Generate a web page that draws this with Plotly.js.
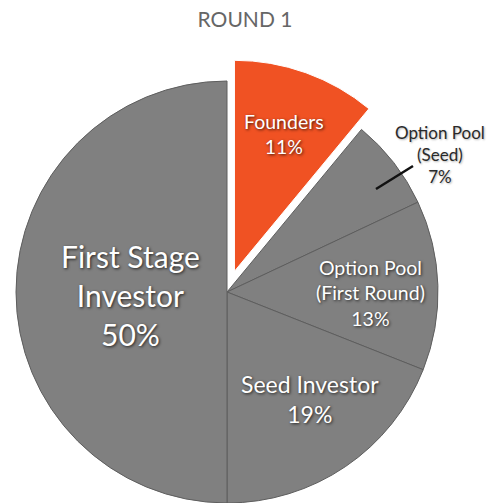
<!DOCTYPE html>
<html><head><meta charset="utf-8">
<script src="https://cdn.plot.ly/plotly-3.0.1.min.js"></script>
<style>html,body{margin:0;padding:0;background:#fff}</style>
</head><body><div id="chart" style="width:490px;height:503px"></div>
<script>
const chartTitle = "ROUND 1";
const labels = ["Founders", "Option Pool (Seed)", "Option Pool (First Round)", "Seed Investor", "First Stage Investor"];
const textLabels = ["Founders", "Option Pool<br>(Seed)", "Option Pool<br>(First Round)", "Seed Investor", "First Stage<br>Investor"];
const values = [11, 7, 13, 19, 50];
const highlighted = "Founders";
const outsideLabel = "Option Pool (Seed)";

const W = 490, H = 503;
const px = x => x / W;
const py = y => 1 - y / H;

const ORANGE = "#F05223", GREY = "#808080", EDGE = "#5e5e5e", CLEAR = "rgba(0,0,0,0)";
const shadow = "1px 1px 3px rgba(0,0,0,0.75)";

// pie geometry (pixels)
const CX = 227, CY = 292, R = 211, PULL = 22;
const total = values.reduce((a, b) => a + b, 0);
let acc = 0;
const midAngles = values.map(v => { const m = (acc + v / 2) / total * 2 * Math.PI; acc += v; return m; });
const hi = labels.indexOf(highlighted);
const dx = PULL * Math.sin(midAngles[hi]), dy = PULL * Math.cos(midAngles[hi]);

const base = {
  type: "pie", values: values, labels: labels, sort: false, direction: "clockwise", rotation: 0,
  textinfo: "none", hoverinfo: "none", showlegend: false
};

const greyTrace = Object.assign({}, base, {
  domain: {x: [px(CX - R), px(CX + R)], y: [py(CY + R), py(CY - R)]},
  marker: {
    colors: labels.map(l => l === highlighted ? CLEAR : GREY),
    line: {color: labels.map(l => l === highlighted ? CLEAR : EDGE), width: labels.map(l => l === highlighted ? 0 : 1)}
  }
});

const orangeTrace = Object.assign({}, base, {
  domain: {x: [px(CX - R + dx), px(CX + R + dx)], y: [py(CY + R - dy), py(CY - R - dy)]},
  marker: {
    colors: labels.map(l => l === highlighted ? ORANGE : CLEAR),
    line: {color: labels.map(l => l === highlighted ? "#ffffff" : CLEAR), width: labels.map(l => l === highlighted ? 1 : 0)}
  }
});

// inside label placement (style): radial fraction, pixel shifts, font size
const labelStyle = {
  "Founders":                  {f: 0.69,  xs: 0, ys: 0,  size: 19.5},
  "Option Pool (First Round)": {f: 0.68,  xs: 0, ys: -6, size: 19.5},
  "Seed Investor":             {f: 0.64,  xs: 7, ys: 5,  size: 23},
  "First Stage Investor":      {f: 0.455, xs: 0, ys: -3, size: 30}
};

const annotations = [];
labels.forEach((l, i) => {
  if (l === outsideLabel) return;
  const s = labelStyle[l];
  const ox = l === highlighted ? dx : 0, oy = l === highlighted ? dy : 0;
  const x = CX + ox + s.f * R * Math.sin(midAngles[i]);
  const y = CY - oy - s.f * R * Math.cos(midAngles[i]);
  annotations.push({
    xref: "paper", yref: "paper", x: px(x), y: py(y), xanchor: "center", yanchor: "middle",
    xshift: s.xs, yshift: s.ys,
    text: textLabels[i] + "<br>" + values[i] + "%", showarrow: false,
    font: {family: "Lato", size: s.size, color: "#ffffff", shadow: shadow}
  });
});

const oi = labels.indexOf(outsideLabel);
annotations.push({
  xref: "paper", yref: "paper", x: px(440), y: py(154), xanchor: "center", yanchor: "middle",
  text: textLabels[oi] + "<br>" + values[oi] + "%", showarrow: false,
  font: {family: "Lato", size: 17, color: "#2a2a2a", shadow: "1px 1px 2px rgba(0,0,0,0.3)"}
});

const layout = {
  width: W, height: H,
  margin: {l: 0, r: 0, t: 0, b: 0},
  paper_bgcolor: "#ffffff",
  title: {text: chartTitle, x: 0.5, xanchor: "center", y: py(20), yanchor: "middle", yref: "container",
          font: {family: "Lato", size: 21, color: "#666666"}},
  annotations: annotations,
  shapes: [{
    type: "line", xref: "paper", yref: "paper",
    x0: px(376), y0: py(189), x1: px(413), y1: py(166),
    line: {color: "#111111", width: 2.5}
  }]
};

Plotly.newPlot("chart", [greyTrace, orangeTrace], layout, {displayModeBar: false, staticPlot: true});
</script></body></html>
